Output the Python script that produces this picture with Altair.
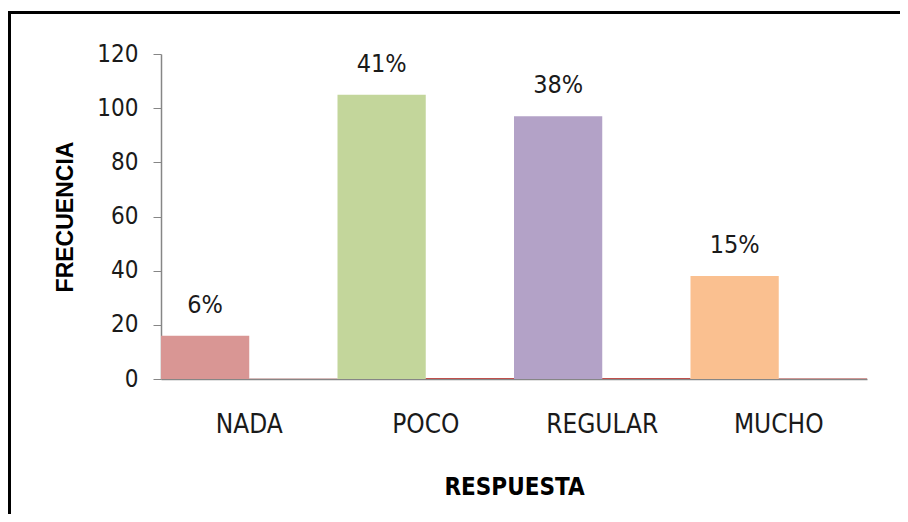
import altair as alt
import pandas as pd

categorias = ["NADA", "POCO", "REGULAR", "MUCHO"]
frecuencia = [16, 105, 97, 38]
porcentaje = [6, 41, 38, 15]
etiquetas = ["6%", "41%", "38%", "15%"]
series = ["FRECUENCIA", "PORCENTAJE"]
y_ticks = [0, 20, 40, 60, 80, 100, 120]

colores = ["#D99694", "#C3D69B", "#B3A2C7", "#FAC090"]
color_pct = "#C0504D"

rows = []
for c, f, p, e in zip(categorias, frecuencia, porcentaje, etiquetas):
    rows.append({"categoria": c, "serie": series[0], "valor": f, "clave": c, "etiqueta": e})
    rows.append({"categoria": c, "serie": series[1], "valor": p / 100, "clave": "PORCENTAJE", "etiqueta": ""})
df = pd.DataFrame(rows)

narrow = "Liberation Sans Narrow, Arial Narrow, DejaVu Sans Condensed, sans-serif"

x_enc = alt.X(
    "categoria:N",
    sort=categorias,
    scale=alt.Scale(paddingInner=0, paddingOuter=0),
    axis=alt.Axis(
        title="RESPUESTA",
        labelAngle=0,
        ticks=False,
        domainColor="#868686",
        domainWidth=1.5,
        labelFont=narrow,
        labelFontSize=26,
        labelColor="#1a1a1a",
        labelPadding=32,
        titleFont=narrow,
        titleFontSize=24,
        titleFontWeight="bold",
        titleColor="#000000",
        titlePadding=38,
    ),
)
xoff_enc = alt.XOffset(
    "serie:N",
    sort=series,
    scale=alt.Scale(domain=series, paddingInner=0, paddingOuter=0),
)
y_enc = alt.Y(
    "valor:Q",
    scale=alt.Scale(domain=[0, 120], nice=False),
    axis=alt.Axis(
        title="FRECUENCIA",
        values=y_ticks,
        grid=False,
        tickSize=8,
        tickColor="#868686",
        domainColor="#868686",
        domainWidth=1.5,
        labelFont=narrow,
        labelFontSize=24,
        labelColor="#1a1a1a",
        labelPadding=15,
        titleFont="Liberation Sans, sans-serif",
        titleFontSize=23,
        titleFontWeight="bold",
        titleColor="#000000",
        titlePadding=19,
    ),
)

base = alt.Chart(df)

bars = base.mark_bar().encode(
    x=x_enc,
    xOffset=xoff_enc,
    y=y_enc,
    color=alt.Color(
        "clave:N",
        scale=alt.Scale(domain=categorias + ["PORCENTAJE"], range=colores + [color_pct]),
        legend=None,
    ),
)

labels = base.transform_filter(alt.datum.serie == series[0]).mark_text(
    baseline="alphabetic",
    align="center",
    dy=-23,
    font=narrow,
    fontSize=25,
    color="#1a1a1a",
).encode(
    x=alt.X("categoria:N", sort=categorias),
    xOffset=alt.XOffset("serie:N", sort=series),
    y="valor:Q",
    text="etiqueta:N",
)

frame = alt.Chart(alt.Data(values=[{"k": 1}])).mark_rect(
    filled=False, stroke="#000000", strokeWidth=3
).encode(
    x=alt.value(-151.5),
    x2=alt.value(2000),
    y=alt.value(-41.5),
    y2=alt.value(2000),
)

chart = alt.layer(bars, labels, frame).properties(
    width=706,
    height=325,
    padding={"left": 153, "top": 46, "right": 33, "bottom": 135},
    autosize=alt.AutoSizeParams(type="none"),
    background="#ffffff",
).configure_view(stroke=None)

chart.save("out.html", embed_options={"renderer": "svg", "actions": False})
